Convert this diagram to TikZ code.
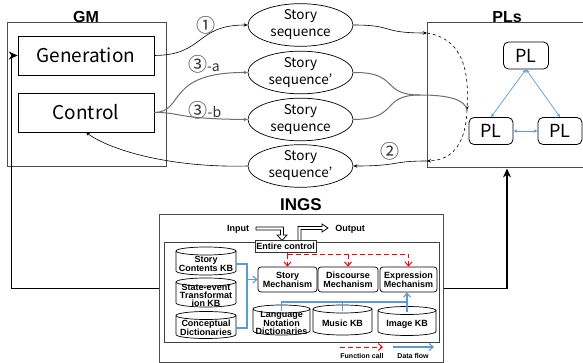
\documentclass[tikz,border=0pt]{standalone}
\usepackage{fontspec}
\setmainfont{Liberation Sans}
\newfontfamily\jp{Noto Sans CJK JP}
\usetikzlibrary{shapes.geometric,arrows.meta,calc}
\definecolor{dfblue}{HTML}{5B9BD5}
\definecolor{gline}{HTML}{6E6E6E}
\definecolor{fcred}{HTML}{FF0000}
\newcommand{\dbcyl}[6]{%
  \pgfmathsetmacro\cxl{#2-#4/2}%
  \pgfmathsetmacro\cxr{#2+#4/2}%
  \pgfmathsetmacro\cyt{#3-#5/2+4}%
  \pgfmathsetmacro\cyb{#3+#5/2-4}%
  \pgfmathsetmacro\rxx{#4/2}%
  \pgfmathsetmacro\cyn{#3+3}%
  \pgfmathsetmacro\hn{#5-6}%
  \draw[cylline, fill=white] (\cxl,\cyt) -- (\cxl,\cyb) arc[start angle=180, end angle=0, x radius=\rxx, y radius=4] -- (\cxr,\cyt);
  \draw[cylline, fill=white] (#2,\cyt) ellipse[x radius=\rxx, y radius=4];
  \node[cyltext, minimum width=#4, minimum height=\hn] (#1) at (#2,\cyn) {#6};
}
\newcommand{\cnum}[1]{{\fontsize{19}{19}\selectfont #1}}
\begin{document}
\begin{tikzpicture}[x=1pt,y=-1pt,
  bigbox/.style={draw=black!70, line width=1pt, inner sep=0pt},
  mainbox/.style={draw, line width=0.7pt, minimum width=136, minimum height=39, inner sep=0pt, font=\jp\fontsize{19}{22}\selectfont},
  seq/.style={ellipse, draw, line width=0.7pt, minimum width=105, minimum height=37, inner sep=0pt, align=center, font=\jp\fontsize{13.5}{17}\selectfont},
  plbox/.style={draw, rounded corners=5, line width=0.8pt, minimum width=45, minimum height=27, inner sep=0pt, font=\jp\fontsize{18}{20}\selectfont},
  cylline/.style={draw, line width=0.7pt},
  cyltext/.style={inner sep=0pt, align=center, font=\bfseries\fontsize{9}{8.3}\selectfont},
  mech/.style={draw, rounded corners=3, line width=0.7pt, minimum height=25, inner sep=0pt, align=center, font=\bfseries\fontsize{9}{9}\selectfont},
  lbl/.style={font=\jp\fontsize{14}{15}\selectfont, inner sep=0pt, text=black!80},
  ttl/.style={font=\bfseries\fontsize{16}{18}\selectfont, inner sep=0pt},
  conn/.style={-{Stealth[length=4pt,width=3.5pt]}, line width=0.6pt},
  gconn/.style={gline, line width=1pt},
  loopline/.style={line width=1.2pt, -{Stealth[length=9pt,width=8pt]}},
  fc/.style={fcred, dash pattern=on 5pt off 3pt, line width=1pt},
  df/.style={dfblue, line width=1.1pt},
  barb/.style={-{Straight Barb[length=4pt,width=7pt]}},
  plarr/.style={dfblue, line width=0.7pt, {Stealth[length=4pt,width=3.5pt]}-{Stealth[length=4pt,width=3.5pt]}}
]
\useasboundingbox (0,0) rectangle (583,363);

% GM
\node[bigbox, minimum width=159, minimum height=144] (gm) at (86.5,95) {};
\node[ttl] (gmlbl) at (86,17) {GM};
\node[mainbox] (gen) at (86,55.5) {Generation};
\node[mainbox] (ctl) at (86,112.5) {Control};

% PLs
\node[bigbox, minimum width=160, minimum height=145] (pls) at (507,95.5) {};
\node[ttl] (plslbl) at (507,17) {PLs};
\node[plbox] (pl1) at (526,55.5) {PL};
\node[plbox, minimum width=44] (pl2) at (491,131) {PL};
\node[plbox, minimum width=44] (pl3) at (560,131) {PL};
\draw[plarr] (pl1.south) -- (pl2.north);
\draw[plarr] (pl1.south) -- (pl3.north);
\draw[plarr] (pl2.east) -- (pl3.west);

% story sequences
\node[seq] (e1) at (300.5,25) {Story\\sequence};
\node[seq] (e2) at (300.5,72.5) {Story\\sequence’};
\node[seq] (e3) at (300.5,119.5) {Story\\sequence};
\node[seq] (e4) at (300.5,166) {Story\\sequence’};

\node[lbl] (n1) at (206,25) {\cnum{①}};
\node[lbl] (n3a) at (204,64) {\cnum{③}-a};
\node[lbl] (n3b) at (205,110) {\cnum{③}-b};
\node[lbl] (n2) at (390,151) {\cnum{②}};

\draw[conn] (gen.east) .. controls (205,55) and (195,25) .. (e1.west);
\draw[conn, gconn] (ctl.east) .. controls (185,112) and (165,72) .. (e2.west);
\draw[conn, gconn] (ctl.east) .. controls (180,112) and (175,119) .. (e3.west);
\draw[conn] (e4.west) .. controls (170,168) and (110,150) .. (ctl.south);

\coordinate (p1) at (427,33);
\coordinate (p2) at (467,110);
\coordinate (p3) at (427,161);
\coordinate (mg) at (420,95);
\draw[conn] (e1.east) .. controls (395,25) and (380,33) .. (p1);
\draw[conn, dashed] (p1) .. controls (470,40) and (468,85) .. (p2);
\draw[conn, dashed] (p2) .. controls (466,140) and (455,160) .. (p3);
\draw[conn] (p3) .. controls (390,161) and (400,166) .. (e4.east);
\draw[gconn] (e2.east) .. controls (400,72) and (380,95) .. (mg) .. controls (450,95) and (465,100) .. (p2);
\draw[gconn] (e3.east) .. controls (400,119) and (380,95) .. (mg);

% INGS
\node[draw=black!70, line width=1pt, minimum width=284, minimum height=147, inner sep=0pt] (ings) at (301,288.5) {};
\node[ttl, font=\bfseries\fontsize{17}{19}\selectfont] (ingslbl) at (301,205) {INGS};
\node[draw=black!75, line width=0.8pt, minimum width=275, minimum height=100, inner sep=0pt] (inner) at (301.5,292) {};

\node[font=\bfseries\fontsize{9}{10}\selectfont, inner sep=0pt] (inp) at (238,229) {Input};
\node[font=\bfseries\fontsize{9}{10}\selectfont, inner sep=0pt] (outp) at (350,229) {Output};
\draw[line width=0.7pt, fill=white] (256,227) -- (283.5,227) -- (283.5,235) -- (287,235) -- (282,240.5) -- (277,235) -- (280.5,235) -- (280.5,230) -- (256,230) -- cycle;
\draw[line width=0.7pt, fill=white] (298,241) -- (298,226.5) -- (322,226.5) -- (322,224) -- (328,228) -- (322,232) -- (322,229.5) -- (301,229.5) -- (301,241);
\node[draw=black!80, line width=1pt, fill=white, minimum width=61, minimum height=11, inner sep=0pt, font=\bfseries\fontsize{9}{10}\selectfont] (ec) at (285.5,246.5) {Entire control};

\dbcyl{skb}{206}{261}{60}{28}{Story\\Contents KB}
\dbcyl{sekb}{206}{292.5}{60}{29}{State-event\\Transformat\\ion KB}
\dbcyl{cdic}{206}{325}{60}{27}{Conceptual\\Dictionaries}
\dbcyl{lnd}{281.5}{320}{57}{30}{Language\\Notation\\Dictionaries}
\dbcyl{mkb}{342.5}{320}{59}{30}{Music KB}
\dbcyl{ikb}{407}{321}{58}{29}{Image KB}

\node[mech, minimum width=59] (story) at (287.5,279.5) {Story\\Mechanism};
\node[mech, minimum width=60] (disc) at (348,279.5) {Discourse\\Mechanism};
\node[mech, minimum width=57] (expr) at (408.5,279.5) {Expression\\Mechanism};

% function calls
\coordinate (rj) at (287.5,254);
\draw[fc] (story.north |- ec.south) -- (rj);
\draw[fc, barb] (rj) -- (story.north);
\draw[fc, barb] (rj) -| (expr.north);
\draw[fc, barb] (rj -| disc.north) -- (disc.north);

% data flow
\coordinate (bj) at (247,279.5);
\coordinate (bus) at (407,302);
\draw[df] (skb.east) -| (bj);
\draw[df] (cdic.east) -| (bj);
\draw[df, barb] (bj) -- (story.west);
\draw[df] (lnd.north) |- (bus);
\draw[df] (mkb.north) -- (mkb.north |- bus);
\draw[df, barb] (ikb.north) -- (expr.south -| ikb.north);

% legend
\coordinate (lf1) at (340,347);
\coordinate (lf2) at (383,347);
\coordinate (ld1) at (393,347);
\coordinate (ld2) at (434,347);
\draw[fc, barb] (lf1) -- (lf2);
\draw[df, barb] (ld1) -- (ld2);
\node[font=\bfseries\fontsize{7}{8}\selectfont, inner sep=0pt] (fcl) at (362,356) {Function call};
\node[font=\bfseries\fontsize{7}{8}\selectfont, inner sep=0pt] (dfl) at (413,356) {Data flow};

% big loop
\draw[loopline] (ings.west) -| ($(gen.west)+(-6,0)$) -- (gen.west);
\draw[loopline] (ings.east) -| (pls.south);
\end{tikzpicture}
\end{document}
